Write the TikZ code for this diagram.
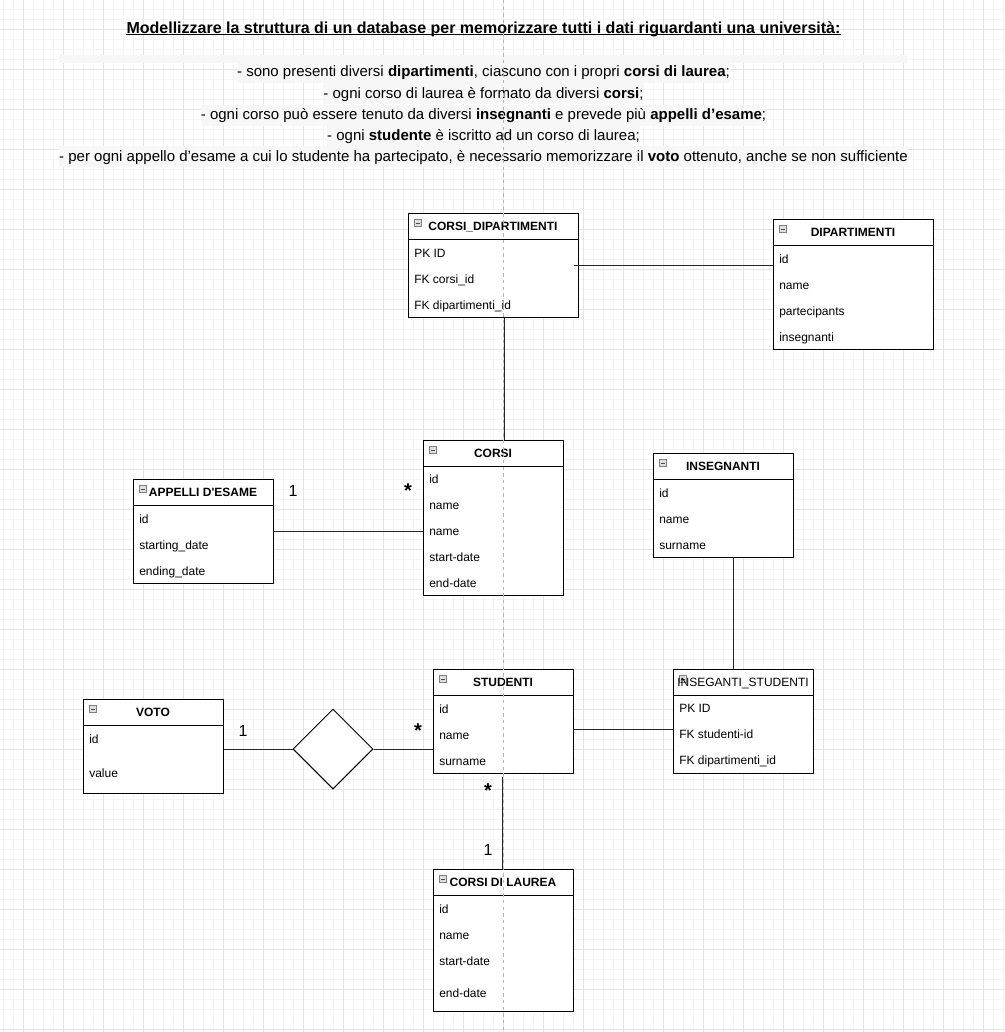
\documentclass[tikz,border=0pt]{standalone}
\usepackage{fontspec}
\setmainfont{Liberation Sans}
\usetikzlibrary{fit,shapes.geometric}
\definecolor{gridmaj}{HTML}{E4E4E4}
\definecolor{gridmin}{HTML}{F5F5F5}
\definecolor{guide}{HTML}{B5B5B5}
\definecolor{txtbg}{HTML}{F7F7F7}
\tikzset{
  ebox/.style={draw=black, fill=white, line width=0.75pt, inner sep=0pt},
  sepline/.style={draw=black, line width=0.75pt},
  fld/.style={anchor=base west, inner sep=0pt, font=\fontsize{9}{10}\selectfont},
  ttl/.style={anchor=base, inner sep=0pt, font=\bfseries\fontsize{9}{10}\selectfont},
  ttlplain/.style={anchor=base, inner sep=0pt, font=\fontsize{9}{10}\selectfont},
  iconbox/.style={draw=gray, fill=gray!25, minimum size=5.25pt, inner sep=0pt, line width=0.4pt},
  conn/.style={draw=black!85, line width=0.75pt},
  card/.style={font=\fontsize{12}{14}\selectfont, inner sep=0pt},
  starlbl/.style={font=\bfseries\fontsize{15}{16}\selectfont, inner sep=0pt},
  bodyline/.style={anchor=base, inner xsep=0pt, inner ysep=1.6pt, text height=9.5pt, text depth=3pt,
    fill=txtbg, font=\fontsize{11.25}{13}\selectfont},
}
\newcommand\entity[7]{%
  \node[ebox, fit={(#2,#3) (#4,#5)}] (#1) {};
  \draw[sepline] (#2,#3+26) -- (#4,#3+26);
  \node[iconbox] (#1-icon) at (#2+10,#3+10) {};
  \draw[line width=0.5pt, black!70] (#2+8,#3+10) -- (#2+12,#3+10);
  \node[#6] (#1-title) at ({(#2+#4)/2},#3+17.7) {#7};
}
\begin{document}
\begin{tikzpicture}[x=0.75pt,y=-0.75pt]
\useasboundingbox (0,0) rectangle (1005,1032);
\fill[white] (0,0) rectangle (1005,1032);
% grid
\foreach \i in {0,...,100} {
  \draw[gridmin, line width=0.5pt] (3.3+10*\i,0) -- (3.3+10*\i,1032);
  \draw[gridmin, line width=0.5pt] (0,9.3+10*\i) -- (1005,9.3+10*\i);
}
\foreach \i in {0,...,25} {
  \draw[gridmaj, line width=0.75pt] (23.3+40*\i,0) -- (23.3+40*\i,1032);
  \draw[gridmaj, line width=0.75pt] (0,29.3+40*\i) -- (1005,29.3+40*\i);
}
% text block
\fill[txtbg] (59,55) rectangle (907,63);
\node[anchor=base, inner sep=0pt, font=\bfseries\fontsize{12}{14}\selectfont] (title) at (483.5,33)
  {Modellizzare la struttura di un database per memorizzare tutti i dati riguardanti una università:};
\draw[line width=0.75pt] ([yshift=-1.3pt]title.base west) -- ([yshift=-1.3pt]title.base east);
\node[bodyline] (l1) at (483.5,76.5) {- sono presenti diversi \textbf{dipartimenti}, ciascuno con i propri \textbf{corsi di laurea};};
\node[bodyline] (l2) at (483.5,98) {- ogni corso di laurea è formato da diversi \textbf{corsi};};
\node[bodyline] (l3) at (483.5,119.5) {- ogni corso può essere tenuto da diversi \textbf{insegnanti} e prevede più \textbf{appelli d’esame};};
\node[bodyline] (l4) at (483.5,140.5) {- ogni \textbf{studente} è iscritto ad un corso di laurea;};
\node[bodyline] (l5) at (483.5,161) {- per ogni appello d’esame a cui lo studente ha partecipato, è necessario memorizzare il \textbf{voto} ottenuto, anche se non sufficiente};
% coordinates for connector positions
\coordinate (x504) at (504,0);
\coordinate (x733) at (733,0);
\coordinate (x502) at (502,0);
\coordinate (y729) at (0,729);
% connectors (drawn first, boxes on top)
% entities
\entity{cd}{408}{213}{578}{317}{ttl}{CORSI\_DIPARTIMENTI}
\node[fld] (cd-1) at (414,257.5) {PK ID};
\node[fld] (cd-2) at (414,283.5) {FK corsi\_id};
\node[fld] (cd-3) at (414,309.5) {FK dipartimenti\_id};

\entity{dip}{773}{219}{933}{349}{ttl}{DIPARTIMENTI}
\node[fld] (dip-1) at (779,263) {id};
\node[fld] (dip-2) at (779,289) {name};
\node[fld] (dip-3) at (779,315) {partecipants};
\node[fld] (dip-4) at (779,341) {insegnanti};

\entity{corsi}{423}{440}{563}{595}{ttl}{CORSI}
\node[fld] (corsi-1) at (429,483.5) {id};
\node[fld] (corsi-2) at (429,509.5) {name};
\node[fld] (corsi-3) at (429,535.5) {name};
\node[fld] (corsi-4) at (429,561.5) {start-date};
\node[fld] (corsi-5) at (429,587.5) {end-date};

\entity{app}{133}{479}{273}{583}{ttl}{APPELLI D\textquotesingle ESAME}
\node[fld] (app-1) at (139,523.5) {id};
\node[fld] (app-2) at (139,549.5) {starting\_date};
\node[fld] (app-3) at (139,575.5) {ending\_date};

\entity{ins}{653}{453}{793}{557}{ttl}{INSEGNANTI}
\node[fld] (ins-1) at (659,497.5) {id};
\node[fld] (ins-2) at (659,523.5) {name};
\node[fld] (ins-3) at (659,549.5) {surname};

\entity{is}{673}{669}{813}{773}{ttlplain}{INSEGANTI\_STUDENTI}
\node[fld] (is-1) at (679,712.5) {PK ID};
\node[fld] (is-2) at (679,738.5) {FK studenti-id};
\node[fld] (is-3) at (679,764.5) {FK dipartimenti\_id};

\entity{st}{433}{669}{573}{773}{ttl}{STUDENTI}
\node[fld] (st-1) at (439,713) {id};
\node[fld] (st-2) at (439,739) {name};
\node[fld] (st-3) at (439,765) {surname};

\entity{voto}{83}{699}{223}{793}{ttl}{VOTO}
\node[fld] (voto-1) at (89,743.5) {id};
\node[fld] (voto-2) at (89,777) {value};

\entity{cdl}{433}{869}{573}{1011}{ttl}{CORSI DI LAUREA}
\node[fld] (cdl-1) at (439,913.5) {id};
\node[fld] (cdl-2) at (439,939.5) {name};
\node[fld] (cdl-3) at (439,965.5) {start-date};
\node[fld] (cdl-4) at (439,997.5) {end-date};

\node[diamond, draw=black, fill=white, line width=0.75pt, minimum width=60pt, minimum height=60pt, inner sep=0pt] (dia) at (333,749) {};

% connectors
\draw[conn] ([xshift=-3.75pt]cd.east) -- (dip.west |- cd.east);
\draw[conn] (cd.south -| x504) -- (corsi.north -| x504);
\draw[conn] (app.east) -- (corsi.west |- app.east);
\draw[conn] (ins.south -| x733) -- (is.north -| x733);
\draw[conn] (st.east |- y729) -- (is.west |- y729);
\draw[conn] (voto.east |- dia.west) -- (dia.west);
\draw[conn] (dia.east) -- (st.west |- dia.east);
\draw[conn] (st.south -| x502) ++(0,3) -- (cdl.north -| x502);

% cardinalities
\node[card] (c1) at (293,491) {1};
\node[starlbl] (s1) at (408,491) {*};
\node[card] (c2) at (243,731) {1};
\node[starlbl] (s2) at (418,731) {*};
\node[starlbl] (s3) at (488,791) {*};
\node[card] (c3) at (488,850) {1};

% guide line
\draw[guide, line width=0.6pt, dash pattern=on 2.5pt off 2.5pt] (503,0) -- (503,1032);
\end{tikzpicture}
\end{document}
